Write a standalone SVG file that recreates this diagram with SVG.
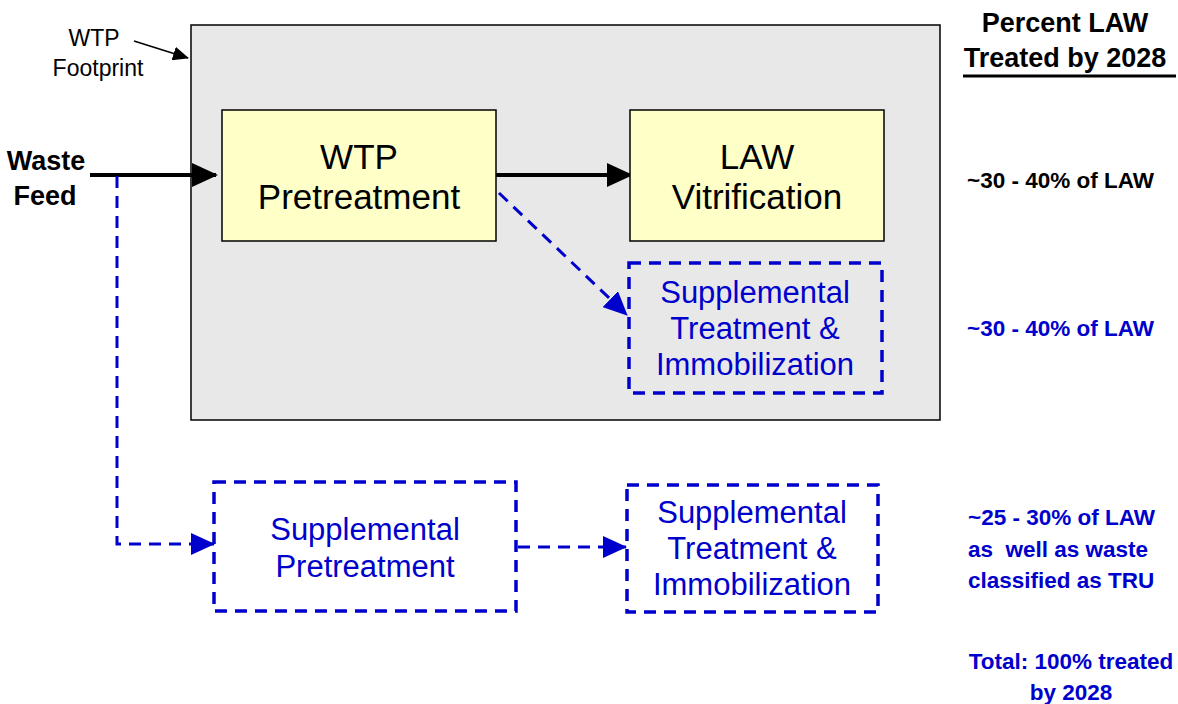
<svg xmlns="http://www.w3.org/2000/svg" width="1178" height="704" viewBox="0 0 1178 704">
<style>
.solid{fill:#ffffc8;stroke:#000;stroke-width:1.5}
.dash{fill:none;stroke:#0000cc;stroke-width:3.5;stroke-dasharray:12,8}
.t{font-family:"Liberation Sans",Arial,sans-serif;font-size:35px;text-anchor:middle}
.tb{font-family:"Liberation Sans",Arial,sans-serif;font-size:31px;text-anchor:middle;fill:#0000cc}
.nb{font-family:"Liberation Sans Narrow","Liberation Sans",Arial,sans-serif;font-weight:bold}
.cl{fill:none;stroke-width:4}
.cd{fill:none;stroke:#0000cc;stroke-width:3;stroke-dasharray:12,8}
</style>
<defs>
<marker id="ab" markerWidth="16" markerHeight="14" refX="15" refY="7" orient="auto" markerUnits="userSpaceOnUse" viewBox="0 0 16 14"><path d="M0,0 L16,7 L0,14 z" fill="#000"/></marker>
<marker id="abig" markerWidth="26" markerHeight="26" refX="24" refY="13" orient="auto" markerUnits="userSpaceOnUse" viewBox="0 0 26 26"><path d="M0,1 L26,13 L0,25 z" fill="#000"/></marker>
<marker id="bbig" markerWidth="24" markerHeight="22" refX="23" refY="11" orient="auto" markerUnits="userSpaceOnUse" viewBox="0 0 24 22"><path d="M0,0 L24,11 L0,22 z" fill="#0000cc"/></marker>
</defs>
<g id="footprint">
<rect x="191" y="25" width="749" height="395" fill="#e8e8e8" stroke="#000" stroke-width="1.5"/>
<text x="94" y="46" font-family="Liberation Sans,Arial,sans-serif" font-size="23" text-anchor="middle">WTP</text>
<text x="98" y="76" font-family="Liberation Sans,Arial,sans-serif" font-size="23" text-anchor="middle">Footprint</text>
</g>
<g id="connectors">
<line x1="134" y1="41" x2="188" y2="58" stroke="#000" stroke-width="1.5" marker-end="url(#ab)"/>
<line x1="90" y1="175" x2="216" y2="175" class="cl" stroke="#000" marker-end="url(#abig)"/>
<line x1="496" y1="175" x2="631" y2="175" class="cl" stroke="#000" marker-end="url(#abig)"/>
<line x1="499" y1="193" x2="627" y2="315" class="cd" marker-end="url(#bbig)"/>
<polyline points="117,176 117,544 214,544" class="cd" marker-end="url(#bbig)"/>
<line x1="518" y1="547" x2="626" y2="547" class="cd" marker-end="url(#bbig)"/>
</g>
<g id="waste-feed">
<text x="46" y="170" class="nb" font-size="27" text-anchor="middle">Waste</text>
<text x="45" y="205" class="nb" font-size="27" text-anchor="middle">Feed</text>
</g>
<g id="wtp-pretreatment">
<rect x="222" y="110" width="274" height="131" class="solid"/>
<text x="359" y="169" class="t">WTP</text>
<text x="359" y="209" class="t">Pretreatment</text>
</g>
<g id="law-vitrification">
<rect x="630" y="110" width="254" height="131" class="solid"/>
<text x="757" y="169" class="t">LAW</text>
<text x="757" y="209" class="t">Vitrification</text>
</g>
<g id="supp-treatment-wtp">
<rect x="629" y="263" width="253" height="130" class="dash"/>
<text x="755" y="303" class="tb">Supplemental</text>
<text x="755" y="339" class="tb">Treatment &amp;</text>
<text x="755" y="375" class="tb">Immobilization</text>
</g>
<g id="supp-pretreatment">
<rect x="214" y="482" width="302" height="129" class="dash"/>
<text x="365" y="540" class="tb">Supplemental</text>
<text x="365" y="577" class="tb">Pretreatment</text>
</g>
<g id="supp-treatment">
<rect x="627" y="485" width="251" height="127" class="dash"/>
<text x="752" y="523" class="tb">Supplemental</text>
<text x="752" y="559" class="tb">Treatment &amp;</text>
<text x="752" y="595" class="tb">Immobilization</text>
</g>
<g id="percent-column">
<text x="1065" y="32" class="nb" font-size="27" text-anchor="middle">Percent LAW</text>
<text x="1065" y="67" class="nb" font-size="27" text-anchor="middle">Treated by 2028</text>
<line x1="963" y1="76" x2="1176" y2="76" stroke="#000" stroke-width="3"/>
<text x="967" y="188" class="nb" font-size="22.5">~30 - 40% of LAW</text>
<text x="967" y="336" class="nb" font-size="22.5" fill="#0000cc">~30 - 40% of LAW</text>
<text x="968" y="525" class="nb" font-size="22.5" fill="#0000cc">~25 - 30% of LAW</text>
<text x="968" y="557" class="nb" font-size="22.5" fill="#0000cc" xml:space="preserve">as  well as waste</text>
<text x="968" y="588" class="nb" font-size="22.5" fill="#0000cc">classified as TRU</text>
<text x="1071" y="669" class="nb" font-size="22.5" fill="#0000cc" text-anchor="middle">Total: 100% treated</text>
<text x="1071" y="700" class="nb" font-size="22.5" fill="#0000cc" text-anchor="middle">by 2028</text>
</g>
</svg>
